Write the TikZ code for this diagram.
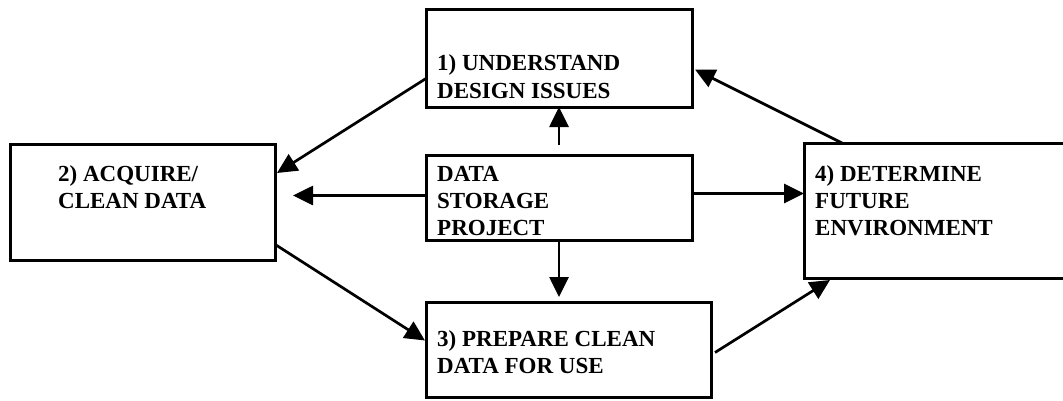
\documentclass[tikz,border=0pt]{standalone}
\usepackage{fontspec}
\setmainfont{Liberation Serif}
\usetikzlibrary{arrows.meta,calc}
\begin{document}
\begin{tikzpicture}[x=1pt,y=1pt,
  box/.style={draw,line width=3pt,inner sep=0pt,outer sep=0pt,anchor=south west},
  lbl/.style={anchor=base west,inner sep=0pt,align=left,
    font=\bfseries\fontsize{23}{27}\selectfont},
  flow/.style={line width=2.7pt,-{Triangle[length=20pt,width=19pt]}}]
\useasboundingbox (0,0) rectangle (1063,400);

% process boxes
\node[box,minimum width=266pt,minimum height=97pt]  (b1) at (426,293) {};
\node[box,minimum width=265pt,minimum height=116pt] (b2) at (10,140) {};
\node[box,minimum width=266pt,minimum height=85pt]  (c)  at (426,160) {};
\node[box,minimum width=285pt,minimum height=95pt]  (b3) at (426,3) {};
\node[box,minimum width=270pt,minimum height=135pt] (b4) at (804,122) {};

% box texts (placed at the baseline of their last line)
\node[lbl] (t1) at (437,302) {1) UNDERSTAND\\DESIGN ISSUES};
\node[lbl] (t2) at (58,192)  {2) ACQUIRE/\\CLEAN DATA};
\node[lbl] (tc) at (437,165) {DATA\\STORAGE\\PROJECT};
\node[lbl] (t3) at (437,27)  {3) PREPARE CLEAN\\DATA FOR USE};
\node[lbl] (t4) at (815,165) {4) DETERMINE\\FUTURE\\ENVIRONMENT};

% connectors
\draw[flow] ([yshift=-20pt]b1.west) -- ([yshift=29pt,xshift=2pt]b2.east);
\draw[flow,shorten >=18pt] ([yshift=2pt]c.west) -- ([yshift=2pt]c.west -| b2.east);
\draw[flow,shorten >=5pt] (c.south) -- (c.south |- b3.north);
\draw[flow,shorten <=10pt] (c.north) -- (c.north |- b1.south);
\draw[flow] ([yshift=4pt]c.east) -- ([yshift=4pt]c.east -| b4.west);
\draw[flow] ($(b4.north west)+(38pt,0)$) -- ([yshift=-11pt,xshift=3pt]b1.east);
\draw[flow] ([yshift=-3pt,xshift=4pt]b3.east) -- ($(b4.south west)+(26pt,-2pt)$);
\draw[flow] ([yshift=-43pt,xshift=1pt]b2.east) -- ([yshift=9pt,xshift=-1pt]b3.west);
\end{tikzpicture}
\end{document}
